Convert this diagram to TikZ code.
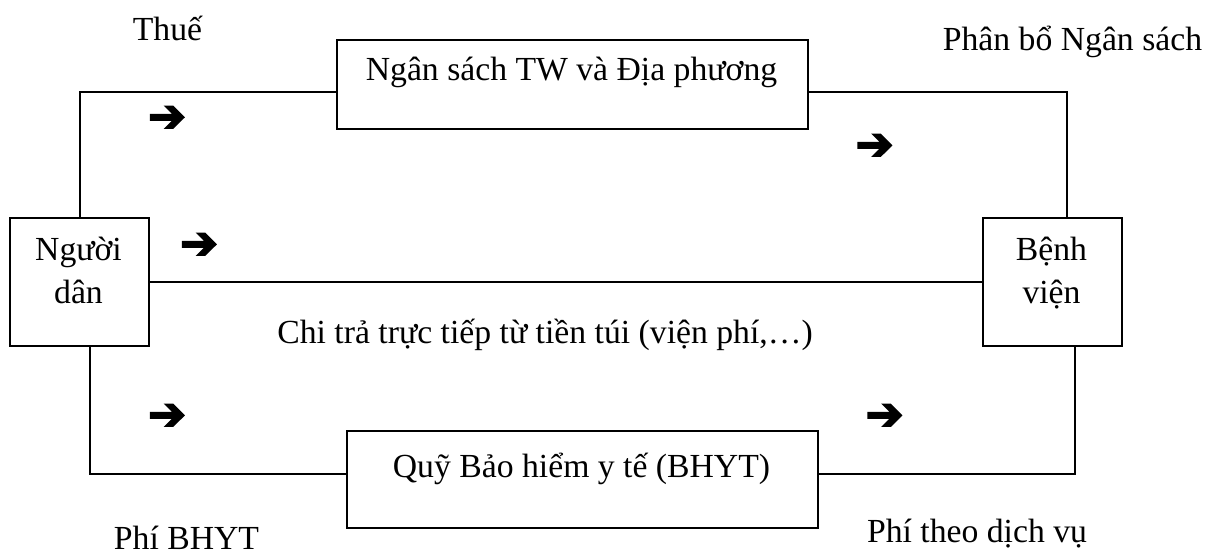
\documentclass[tikz,border=0pt]{standalone}
\usepackage{fontspec}
\setmainfont{Liberation Serif}
\newfontfamily\arrfont[FakeBold=4]{DejaVu Sans}
\begin{document}
\begin{tikzpicture}[x=1pt, y=-1pt,
  every node/.style={font=\fontsize{33.7}{43}\selectfont},
  box/.style={draw, line width=2pt, inner sep=0pt, anchor=north west},
  lbl/.style={anchor=base, inner sep=0pt},
  flow/.style={line width=2pt},
  arr/.style={inner sep=0pt, font=\arrfont\fontsize{45}{45}\selectfont}]
\useasboundingbox (0,0) rectangle (1217,554);

% boxes
\node[box, minimum width=471pt, minimum height=89pt] (ns) at (336,39) {};
\node[box, minimum width=139pt, minimum height=128pt] (nd) at (9,217) {};
\node[box, minimum width=139pt, minimum height=128pt] (bv) at (982,217) {};
\node[box, minimum width=471pt, minimum height=97pt] (qy) at (346,430) {};

% box texts (two-line labels are placed by their last baseline)
\node[lbl] (nstext) at (571.5,80) {Ngân sách TW và Địa phương};
\node[lbl, align=center] (ndtext) at (78.5,303) {Người\\dân};
\node[lbl, align=center] (bvtext) at (1051.5,303) {Bệnh\\viện};
\node[lbl] (qytext) at (581.5,477) {Quỹ Bảo hiểm y tế (BHYT)};

% connectors
\draw[flow] ([yshift=-7.5pt]ns.west) -| (nd.north);
\draw[flow] ([yshift=-7.5pt]ns.east) -| ([xshift=14.7pt]bv.north);
\draw[flow] (nd.east) -- (bv.west);
\draw[flow] ([xshift=10pt]nd.south) |- ([yshift=5.5pt]qy.west);
\draw[flow] ([yshift=5.5pt]qy.east) -| ([xshift=22.7pt]bv.south);

% flow labels
\node[lbl] (thue) at (167.5,40) {Thuế};
\node[lbl] (phanbo) at (1072.5,50) {Phân bổ Ngân sách};
\node[lbl] (chitra) at (545,343) {Chi trả trực tiếp từ tiền túi (viện phí,…)};
\node[lbl] (phibhyt) at (186.5,549) {Phí BHYT};
\node[lbl] (phidv) at (977,542) {Phí theo dịch vụ};

% direction marks
\node[arr] (a1) at (167,119) {➔};
\node[arr] (a2) at (874.5,147) {➔};
\node[arr] (a3) at (199,246) {➔};
\node[arr] (a4) at (167,417) {➔};
\node[arr] (a5) at (884.5,417) {➔};
\end{tikzpicture}
\end{document}
